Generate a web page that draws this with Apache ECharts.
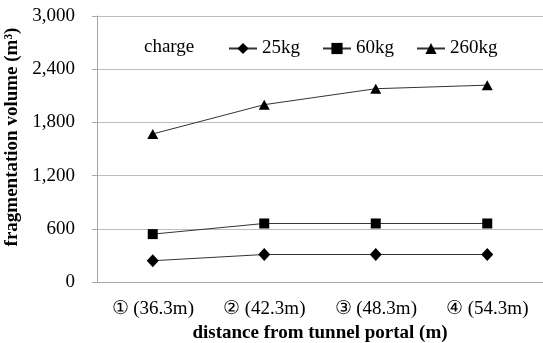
<!DOCTYPE html>
<html>
<head>
<meta charset="utf-8">
<script src="https://cdn.jsdelivr.net/npm/echarts@6/dist/echarts.min.js"></script>
<style>
  html, body { margin: 0; padding: 0; background: #fff; }
  #main { width: 543px; height: 343px; }
</style>
</head>
<body>
<div id="main"></div>
<script>
var categories = ['① (36.3m)', '② (42.3m)', '③ (48.3m)', '④ (54.3m)'];
var charge25 = [240, 310, 310, 310];
var charge60 = [540, 660, 660, 660];
var charge260 = [1670, 2000, 2180, 2220];
var yTicks = [0, 600, 1200, 1800, 2400, 3000];

var font = "'Liberation Serif', 'DejaVu Serif', serif";
var myChart = echarts.init(document.getElementById('main'));

function lineSeries(name, data, symbol, size) {
    return {
        name: name,
        type: 'line',
        data: data,
        symbol: symbol,
        symbolSize: size,
        lineStyle: { color: '#333', width: 1 },
        itemStyle: { color: '#000' },
        animation: false
    };
}

var option = {
    title: {
        text: 'charge',
        left: 139,
        top: 33,
        textStyle: { fontFamily: font, fontSize: 19, fontWeight: 'normal', color: '#000' }
    },
    legend: {
        left: 223,
        top: 34,
        itemWidth: 28,
        itemHeight: 14,
        itemGap: 22,
        textStyle: { fontFamily: font, fontSize: 19, color: '#000' },
        data: ['25kg', '60kg', '260kg']
    },
    grid: { left: 97, right: 0, top: 16, bottom: 61, outerBoundsMode: 'none' },
    xAxis: {
        type: 'category',
        data: categories,
        name: 'distance from tunnel portal (m)',
        nameLocation: 'middle',
        nameGap: 38,
        nameTextStyle: { fontFamily: font, fontSize: 19, fontWeight: 'bold', color: '#000' },
        axisLine: { lineStyle: { color: '#a6a6a6' } },
        axisTick: { length: 5, lineStyle: { color: '#a6a6a6' } },
        axisLabel: { margin: 18, fontFamily: font, fontSize: 19, color: '#000' }
    },
    yAxis: {
        type: 'value',
        min: yTicks[0],
        max: yTicks[yTicks.length - 1],
        interval: yTicks[1] - yTicks[0],
        name: 'fragmentation volume (m³)',
        nameLocation: 'middle',
        nameGap: 60,
        nameTextStyle: { fontFamily: font, fontSize: 19, fontWeight: 'bold', color: '#000', padding: [0, 0, 0, 24] },
        axisLine: { show: true, lineStyle: { color: '#a6a6a6' } },
        axisTick: { show: true, length: 5, lineStyle: { color: '#a6a6a6' } },
        splitLine: { lineStyle: { color: '#bdbdbd' } },
        axisLabel: {
            margin: 22,
            fontFamily: font,
            fontSize: 19,
            color: '#000',
            formatter: function (v) { return v.toLocaleString('en-US'); }
        }
    },
    series: [
        lineSeries('25kg', charge25, 'diamond', [12, 13]),
        lineSeries('60kg', charge60, 'rect', 10),
        lineSeries('260kg', charge260, 'triangle', [11, 10])
    ]
};

myChart.setOption(option, true);
</script>
</body>
</html>
